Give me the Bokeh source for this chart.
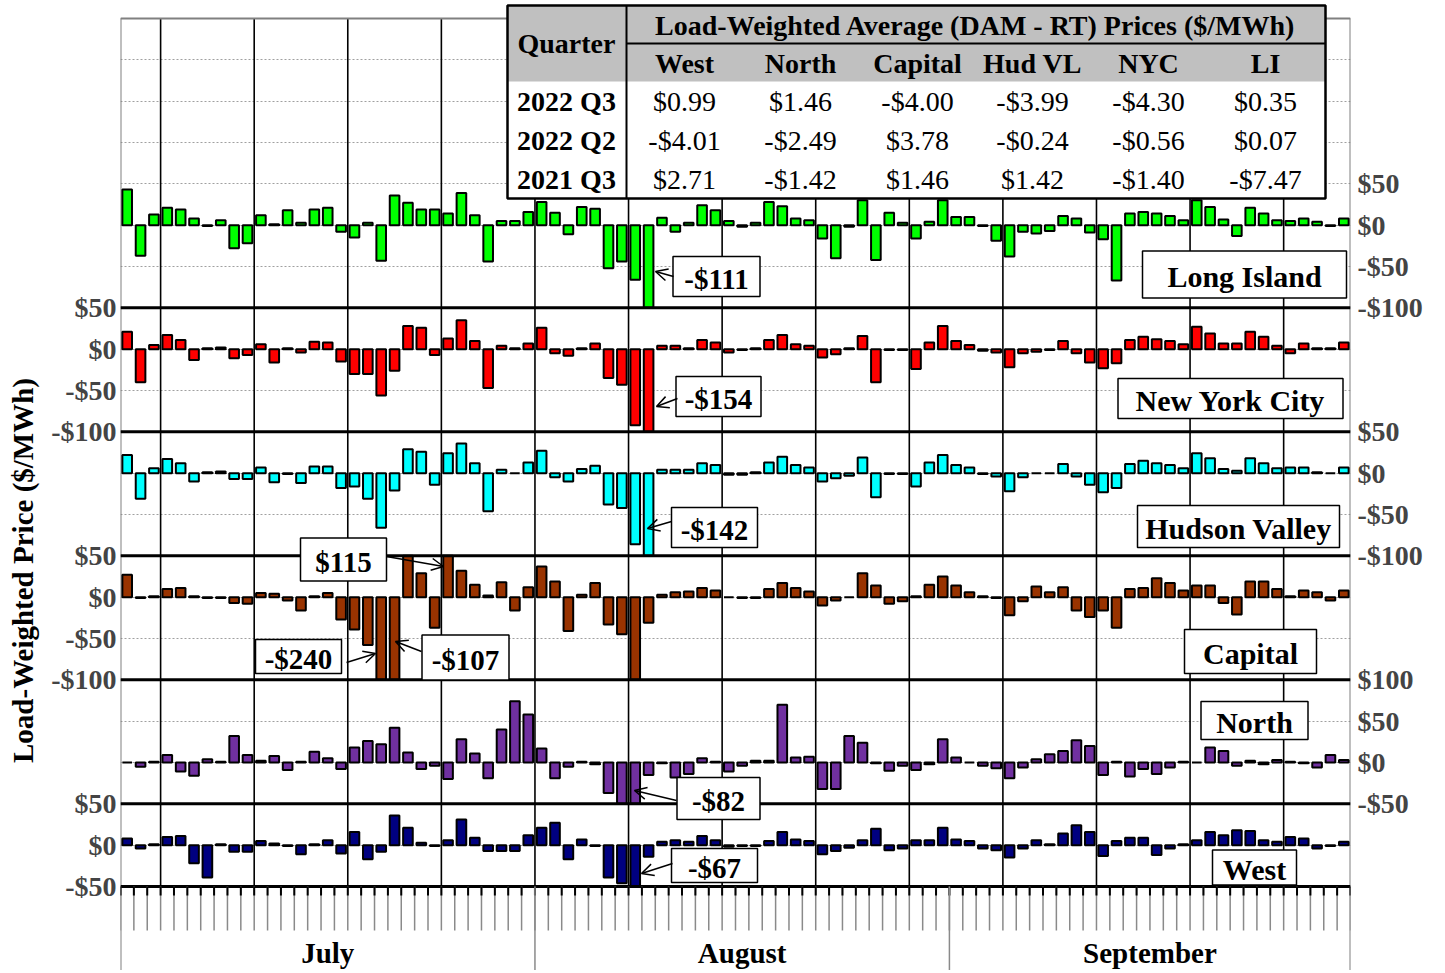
import numpy as np
import pandas as pd
from bokeh.plotting import figure
from bokeh.layouts import row
from bokeh.models import (Range1d, FixedTicker, LinearAxis, CustomJSTickFormatter,
                          Arrow, OpenHead)
from bokeh.core.properties import value
from bokeh.embed import file_html
from bokeh.resources import INLINE

# ---------------------------------------------------------------- data
dates = pd.date_range("2022-07-01", "2022-09-30", freq="D")
month_names = ["July", "August", "September"]

# Daily load-weighted (DAM - RT) price differences, $/MWh
long_island = [43, -37, 13, 21, 19, 8, -1, 6, -28, -22,
               12, 1, 18, 3, 19, 21, -8, -15, 3, -43,
               36, 27, 19, 19, 14, 39, 12, -44, 5, 5,
               16, 28, 15, -11, 22, 20, -52, -44, -66, -111,
               9, -8, 3, 24, 18, 5, -2, 3, 28, 23,
               8, 6, -16, -40, -2, 30, -42, 15, 3, -16,
               4, 30, 10, 10, -1, -19, -38, -8, -10, -7,
               11, 8, -9, -17, -67, 14, 16, 14, 11, 6,
               30, 22, 7, -13, 21, 14, 6, 5, 8, 4,
               -1, 8]
new_york_city = [21, -40, 5, 17, 11, -13, 1, 2, -11, -7,
                 6, -16, 1, -4, 9, 8, -15, -30, -30, -56,
                 -26, 28, 26, -7, 13, 35, 10, -47, 4, 1,
                 7, 26, -5, -8, 1, 7, -35, -43, -92, -154,
                 4, 4, 1, 11, 8, -4, -1, 1, 11, 17,
                 6, 4, -10, -6, 1, 16, -40, -1, -1, -24,
                 8, 28, 10, 5, -2, -4, -22, -5, -3, -1,
                 10, -5, -16, -23, -17, 11, 15, 12, 10, 6,
                 27, 19, 7, 7, 21, 15, 4, -5, 7, 1,
                 1, 8]
hudson_valley = [22, -31, 6, 17, 12, -10, 1, 2, -7, -7,
                 7, -11, -1, -12, 8, 8, -18, -16, -31, -66,
                 -21, 29, 26, -14, 24, 36, 12, -46, 4, 0,
                 13, 27, -5, -10, 5, 9, -38, -42, -86, -142,
                 4, 4, 4, 12, 10, -2, -2, 1, 13, 20,
                 10, 7, -10, -6, -3, 19, -29, -1, -1, -16,
                 13, 22, 10, 7, -1, -4, -22, -5, 0, 0,
                 11, -4, -14, -23, -18, 11, 15, 12, 10, 6,
                 24, 18, 5, 3, 18, 12, 6, 7, 7, 1,
                 0, 7]
capital = [27, -1, 1, 10, 11, 1, -1, -1, -7, -8,
           5, 4, -4, -16, 1, 5, -27, -39, -58, -240,
           -107, 62, 29, -37, 115, 32, 15, 2, 18, -16,
           12, 37, 19, -41, 3, 17, -33, -45, -110, -31,
           3, 6, 7, 11, 8, 0, -1, -1, 10, 17,
           11, 7, -10, -4, 0, 29, 14, -8, -5, 1,
           15, 25, 14, 6, 1, -1, -22, -5, 13, 6,
           12, -16, -24, -16, -37, 10, 11, 23, 17, 8,
           14, 14, -7, -21, 19, 19, 10, 1, 8, 6,
           -4, 8]
north = [0, -5, 1, 9, -11, -16, 4, 1, 32, 9,
         2, 8, -9, 1, 13, 5, -8, 18, 26, 22,
         42, 12, -8, -4, -20, 28, 11, -19, 40, 74,
         58, 17, -19, -5, 1, -2, -37, -60, -82, -15,
         -1, -18, -14, 5, 1, -11, -4, 2, 2, 70,
         6, 7, -32, -32, 32, 24, -1, -10, -4, -9,
         -2, 28, 6, 0, -4, -7, -19, -6, 4, 10,
         14, 27, 20, -15, 1, -17, -8, -14, -6, 1,
         0, 18, 14, -4, 2, -2, 3, 1, -1, -6,
         9, 3]
west = [8, -4, 1, 10, 11, -22, -39, 1, -8, -8,
        5, 2, -1, -11, 1, 6, -10, 16, -17, -8,
        36, 21, 3, -1, 6, 31, 9, -7, -7, -7,
        12, 21, 27, -17, 7, -1, -39, -46, -67, -14,
        4, 6, 4, 11, 6, -2, -1, -1, 5, 16,
        7, 5, -11, -7, -3, 6, 20, -6, -4, 6,
        6, 21, 7, 5, -4, -6, -15, -4, 6, 1,
        14, 24, 16, -13, 5, 9, 9, -12, -4, 1,
        6, 16, 12, 18, 17, 6, 4, 10, 8, -4,
        -1, 4]

zone_names = ["Long Island", "New York City", "Hudson Valley", "Capital", "North", "West"]
zone_colors = ["#00ff00", "#ff0000", "#00ffff", "#993300", "#7030a0", "#000080"]
zone_values = [long_island, new_york_city, hudson_valley, capital, north, west]
zone_ranges = [(-100, 250), (-100, 50), (-100, 50), (-100, 50), (-50, 100), (-50, 50)]
zone_offsets = [0, -150, -300, -450, -650, -750]
zone_axis_side = ["right", "left", "right", "left", "right", "left"]
zone_tick_values = [[50, 0, -50, -100], [50, 0, -50, -100], [50, 0, -50, -100],
                    [50, 0, -50, -100], [100, 50, 0, -50], [50, 0, -50]]

table_title = "Load-Weighted Average (DAM - RT) Prices ($/MWh)"
table_zones = ["West", "North", "Capital", "Hud VL", "NYC", "LI"]
table_quarters = ["2022 Q3", "2022 Q2", "2021 Q3"]
table_2022_q3 = [0.99, 1.46, -4.00, -3.99, -4.30, 0.35]
table_2022_q2 = [-4.01, -2.49, 3.78, -0.24, -0.56, 0.07]
table_2021_q3 = [2.71, -1.42, 1.46, 1.42, -1.40, -7.47]

callout_texts = ["-$111", "-$154", "-$142", "$115", "-$240", "-$107", "-$82", "-$67"]
y_title = "Load-Weighted Price ($/MWh)"

# ---------------------------------------------------------------- geometry
N = len(dates)
H = 970
TITLE_W = 40
PX_DAY = (1350 - 120) / N           # reference pixels per day
PX_USD = (886 - 18) / 1050.0        # reference pixels per $/MWh
Y_TOP = 250 + 18 / PX_USD
Y_BOT = -800 - (H - 886) / PX_USD


def X(px):
    return (px - 120) / PX_DAY


def Y(py):
    return 250 - (py - 18) / PX_USD


SERIF = "Liberation Serif"


def money0(v):
    return "-$%d" % (-v) if v < 0 else "$%d" % v


def money2(v):
    return "-$%.2f" % (-v) if v < 0 else "$%.2f" % v


p = figure(width=1440 - TITLE_W, height=H, x_range=Range1d(0, N), y_range=Range1d(Y_BOT, Y_TOP),
           output_backend="svg", toolbar_location=None,
           min_border_left=120 - TITLE_W, min_border_right=1440 - 1350, min_border_top=0, min_border_bottom=0,
           x_axis_location=None, y_axis_location="left")
p.outline_line_color = None
p.background_fill_color = "white"
p.border_fill_color = "white"
p.xgrid.visible = False
p.ygrid.ticker = FixedTicker(ticks=list(range(-800, 251, 50)))
p.ygrid.grid_line_color = "#a0a0a0"
p.ygrid.grid_line_dash = "2 2"
p.ygrid.grid_line_width = 1

# axes: ticks gathered per side
side_ticks = {"left": [], "right": []}
side_labels = {"left": [], "right": []}
for side, ticks, off in zip(zone_axis_side, zone_tick_values, zone_offsets):
    for tk in ticks:
        side_ticks[side].append(int(tk + off))
        side_labels[side].append(money0(tk))

JS = "const i = tv.indexOf(Math.round(tick)); return i >= 0 ? lv[i] : '';"


def style_axis(ax, side, standoff):
    ax.ticker = FixedTicker(ticks=side_ticks[side])
    ax.formatter = CustomJSTickFormatter(args=dict(tv=side_ticks[side], lv=side_labels[side]), code=JS)
    ax.axis_line_color = None
    ax.major_tick_line_color = None
    ax.minor_tick_line_color = None
    ax.major_tick_in = 0
    ax.major_tick_out = 0
    ax.minor_tick_in = 0
    ax.minor_tick_out = 0
    ax.major_label_text_font = SERIF
    ax.major_label_text_font_style = "bold"
    ax.major_label_text_font_size = "28px"
    ax.major_label_standoff = standoff


style_axis(p.yaxis[0], "left", 4)
right_axis = LinearAxis()
style_axis(right_axis, "right", 7)
p.add_layout(right_axis, "right")

# weekly (Monday) lines
day_idx = np.arange(N)
mondays = day_idx[dates.dayofweek == 0]
p.segment(x0=mondays, y0=-800, x1=mondays, y1=250, line_color="black", line_width=1.6)

# chart border (top, left, right)
p.segment(x0=[0, 0, N], y0=[250, 250, 250], x1=[N, 0, N], y1=[250, Y_BOT, Y_BOT],
          line_color="#808080", line_width=2)

# bars
for vals, color, (lo, hi), off in zip(zone_values, zone_colors, zone_ranges, zone_offsets):
    v = np.clip(np.array(vals, dtype=float), lo, hi)
    p.vbar(x=day_idx + 0.5, width=0.72, bottom=off, top=v + off,
           fill_color=color, line_color="black", line_width=2)

# panel separators (each panel's category axis)
seps = [lo + off for (lo, hi), off in zip(zone_ranges, zone_offsets)]
p.segment(x0=[0] * len(seps), y0=seps, x1=[N] * len(seps), y1=seps, line_color="black", line_width=3)

# category axis: one tick per day, months
bounds = np.arange(N + 1)
p.segment(x0=bounds, y0=-800, x1=bounds, y1=Y(930), line_color="#8a8a8a", line_width=1.5)
p.segment(x0=bounds, y0=-800, x1=bounds, y1=Y(895), line_color="black", line_width=2)
month_starts = list(day_idx[dates.day == 1]) + [N]
p.segment(x0=month_starts[1:-1], y0=-800, x1=month_starts[1:-1], y1=Y_BOT, line_color="#8a8a8a", line_width=1.5)
month_mid = [(a + b) / 2 for a, b in zip(month_starts[:-1], month_starts[1:])]
p.text(x=month_mid, y=Y(952), text=month_names, text_font=value(SERIF), text_font_style="bold",
       text_font_size="29px", text_align="center", text_baseline="middle", text_color="black")

# zone name boxes
name_boxes = [(1244, 274, 204, 47), (1230, 398, 225, 40), (1238, 526, 202, 42),
              (1250, 651, 132, 44), (1254, 720, 107, 38), (1254, 867, 84, 35)]
p.rect(x=[X(b[0]) for b in name_boxes], y=[Y(b[1]) for b in name_boxes],
       width=[b[2] for b in name_boxes], height=[b[3] for b in name_boxes],
       width_units="screen", height_units="screen", fill_color="white", line_color="black", line_width=1.5)
p.text(x=[X(b[0]) for b in name_boxes], y=[Y(b[1] + 2) for b in name_boxes], text=zone_names,
       text_font=value(SERIF), text_font_style="bold", text_font_size="30px",
       text_align="center", text_baseline="middle", text_color="black")

# call-outs for out-of-scale values
callouts = [(716, 276, 87, 40, 673, 276, 655, 271),
            (718, 396, 85, 40, 677, 398, 656, 406),
            (714, 527, 86, 40, 671, 521, 647, 528),
            (343, 559, 86, 43, 386, 556, 443, 566),
            (298, 656, 86, 34, 346, 662, 375, 653),
            (465, 657, 87, 45, 421, 651, 395, 641),
            (718, 798, 83, 42, 676, 800, 634, 790),
            (714, 865, 86, 34, 672, 863, 641, 873)]
for c in callouts:
    p.add_layout(Arrow(end=OpenHead(size=12, line_width=1.5, line_color="black"),
                       x_start=X(c[4]), y_start=Y(c[5]), x_end=X(c[6]), y_end=Y(c[7]),
                       line_width=1.5, line_color="black"))
p.rect(x=[X(c[0]) for c in callouts], y=[Y(c[1]) for c in callouts],
       width=[c[2] for c in callouts], height=[c[3] for c in callouts],
       width_units="screen", height_units="screen", fill_color="white", line_color="black", line_width=1.5)
p.text(x=[X(c[0]) for c in callouts], y=[Y(c[1] + 2) for c in callouts], text=callout_texts,
       text_font=value(SERIF), text_font_style="bold", text_font_size="29px",
       text_align="center", text_baseline="middle", text_color="black")

# summary table
tx0, tx1, ty0, ty1, tq, thead, tmid = 507, 1325, 5, 198, 626, 81, 43
p.quad(left=[X(tx0)], right=[X(tx1)], top=[Y(ty0)], bottom=[Y(ty1)], fill_color="white", line_color=None)
p.quad(left=[X(tx0)], right=[X(tx1)], top=[Y(ty0)], bottom=[Y(thead)], fill_color="#c0c0c0", line_color=None)
p.segment(x0=[X(tq), X(tq)], y0=[Y(ty0), Y(tmid)], x1=[X(tq), X(tx1)], y1=[Y(ty1), Y(tmid)],
          line_color="black", line_width=2)
p.quad(left=[X(tx0)], right=[X(tx1)], top=[Y(ty0)], bottom=[Y(ty1)], fill_color=None,
       line_color="black", line_width=2.5)
col_x = [684, 800, 917, 1032, 1148, 1265]
row_y = [101, 140, 179]
bold_x = [X(975), X(566)] + [X(cx) for cx in col_x] + [X(566)] * 3
bold_y = [Y(25), Y(43)] + [Y(63)] * 6 + [Y(ry) for ry in row_y]
bold_t = [table_title, "Quarter"] + table_zones + table_quarters
p.text(x=bold_x, y=bold_y, text=bold_t, text_font=value(SERIF), text_font_style="bold",
       text_font_size="28px", text_align="center", text_baseline="middle", text_color="black")
vals_x, vals_y, vals_t = [], [], []
for ry, rvals in zip(row_y, [table_2022_q3, table_2022_q2, table_2021_q3]):
    for cx, v in zip(col_x, rvals):
        vals_x.append(X(cx))
        vals_y.append(Y(ry))
        vals_t.append(money2(v))
p.text(x=vals_x, y=vals_y, text=vals_t, text_font=value(SERIF), text_font_style="normal",
       text_font_size="28px", text_align="center", text_baseline="middle", text_color="black")

# y-axis title in its own narrow strip
t = figure(width=TITLE_W, height=H, x_range=Range1d(0, TITLE_W), y_range=Range1d(0, H),
           output_backend="svg", toolbar_location=None, min_border=0,
           x_axis_location=None, y_axis_location=None)
t.outline_line_color = None
t.grid.visible = False
t.text(x=[22], y=[H - 570], text=[y_title], angle=np.pi / 2, text_font=value(SERIF),
       text_font_style="bold", text_font_size="29px", text_align="center",
       text_baseline="middle", text_color="black")

layout = row(t, p, spacing=0)
open("out.html", "w").write(file_html(layout, INLINE))
